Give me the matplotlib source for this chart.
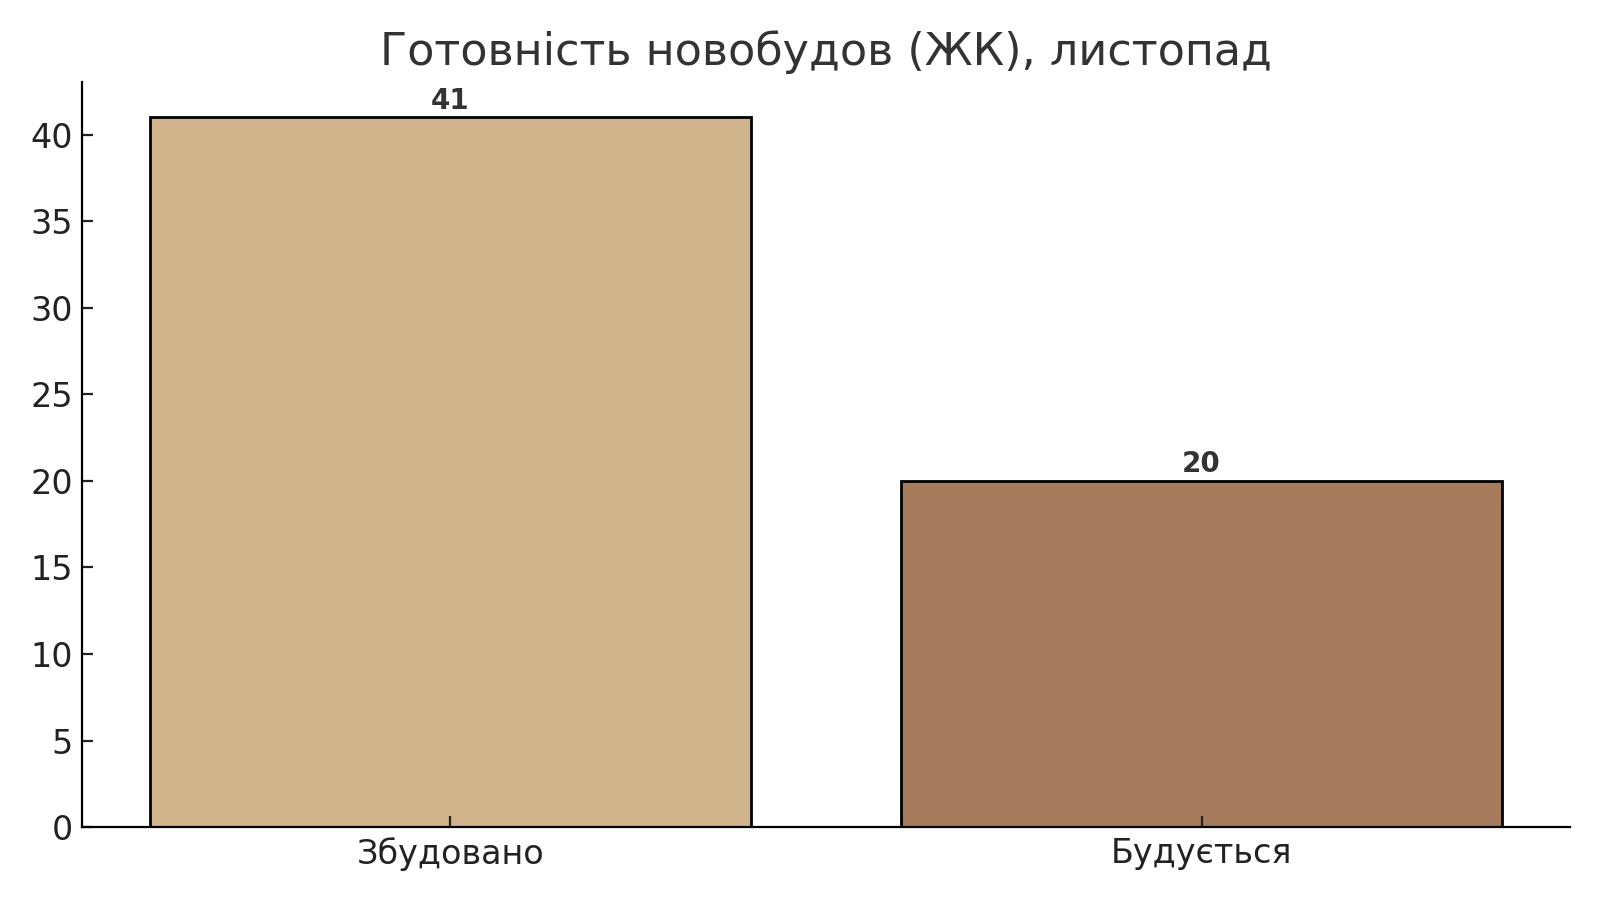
import matplotlib.pyplot as plt

categories = ['Збудовано', 'Будується']
values = [41, 20]
colors = ['#D2B48C', '#A67B5B']

fig, ax = plt.subplots(figsize=(8, 4.5), dpi=200)
fig.subplots_adjust(left=0.0515, right=0.981, bottom=0.081, top=0.909)

bars = ax.bar(categories, values, width=0.8, color=colors, edgecolor='black', linewidth=1.0)

# Підписи значень над стовпцями
for b, v in zip(bars, values):
    ax.text(b.get_x() + b.get_width() / 2, v + 0.15, str(v), ha='center', va='bottom',
            fontsize=10, fontweight='bold', color='#333333')

ax.set_ylim(0, 43.05)
ax.set_title('Готовність новобудов (ЖК), листопад', fontsize=16, color='#333333', pad=6)
ax.tick_params(direction='in', labelsize=12, colors='#222222', length=4)
ax.spines['top'].set_visible(False)
ax.spines['right'].set_visible(False)

plt.savefig('out.png')
